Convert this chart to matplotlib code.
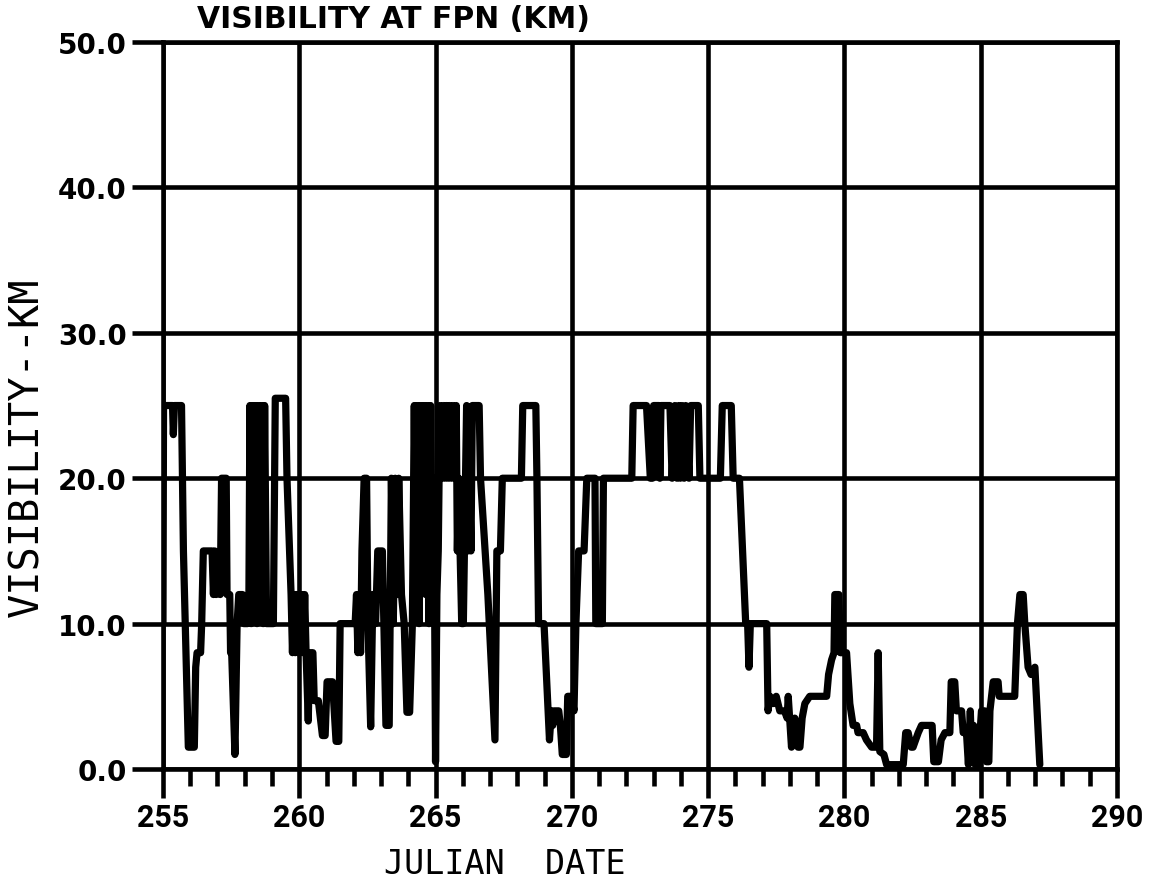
import numpy as np
import matplotlib.pyplot as plt
from matplotlib.ticker import MultipleLocator

# visibility trace (julian day, km)
days = [255.00, 255.02, 255.35, 255.38, 255.42, 255.68, 255.75, 255.93, 256.15, 256.20,
        256.25, 256.38, 256.42, 256.48, 256.80, 256.85, 256.90, 256.95, 257.05, 257.10,
        257.15, 257.32, 257.35, 257.45, 257.48, 257.52, 257.64, 257.72, 257.78, 257.92,
        257.96, 258.10, 258.15, 258.19, 258.24, 258.29, 258.34, 258.39, 258.45, 258.50,
        258.56, 258.62, 258.68, 258.73, 258.80, 259.05, 259.12, 259.50, 259.55, 259.70,
        259.75, 259.80, 259.85, 259.90, 259.95, 260.00, 260.05, 260.10, 260.15, 260.20,
        260.25, 260.33, 260.38, 260.50, 260.55, 260.70, 260.85, 260.95, 261.02, 261.22,
        261.35, 261.45, 261.50, 262.05, 262.10, 262.15, 262.20, 262.25, 262.30, 262.38,
        262.47, 262.52, 262.62, 262.70, 262.80, 262.88, 263.05, 263.18, 263.30, 263.38,
        263.45, 263.52, 263.60, 263.65, 263.75, 263.85, 263.95, 264.05, 264.15, 264.22,
        264.28, 264.34, 264.40, 264.46, 264.52, 264.58, 264.64, 264.70, 264.76, 264.82,
        264.88, 264.94, 265.00, 265.05, 265.10, 265.16, 265.22, 265.28, 265.34, 265.40,
        265.46, 265.52, 265.58, 265.64, 265.70, 265.76, 265.80, 265.85, 265.90, 265.96,
        266.02, 266.06, 266.10, 266.14, 266.20, 266.25, 266.30, 266.35, 266.60, 266.65,
        266.92, 267.18, 267.25, 267.38, 267.45, 268.15, 268.20, 268.68, 268.72, 268.78,
        268.98, 269.18, 269.25, 269.30, 269.35, 269.52, 269.58, 269.65, 269.80, 269.85,
        270.00, 270.08, 270.15, 270.25, 270.45, 270.55, 270.85, 270.88, 271.12, 271.16,
        272.20, 272.25, 272.74, 272.88, 272.96, 273.00, 273.20, 273.23, 273.27, 273.60,
        273.68, 273.78, 273.86, 273.92, 273.98, 274.04, 274.12, 274.18, 274.30, 274.36,
        274.64, 274.70, 275.45, 275.52, 275.85, 275.92, 276.15, 276.38, 276.45, 276.50,
        276.55, 277.15, 277.20, 277.27, 277.40, 277.50, 277.63, 277.80, 277.90, 277.94,
        278.06, 278.18, 278.30, 278.37, 278.45, 278.55, 278.73, 279.35, 279.42, 279.53,
        279.62, 279.65, 279.80, 279.85, 280.08, 280.20, 280.32, 280.45, 280.50, 280.69,
        280.81, 281.00, 281.18, 281.24, 281.30, 281.45, 281.55, 282.16, 282.25, 282.34,
        282.45, 282.52, 282.71, 282.83, 283.22, 283.28, 283.45, 283.55, 283.69, 283.87,
        283.92, 284.05, 284.11, 284.30, 284.36, 284.48, 284.55, 284.62, 284.68, 284.74,
        284.80, 284.90, 285.03, 285.15, 285.21, 285.30, 285.34, 285.46, 285.64, 285.68,
        286.25, 286.35, 286.44, 286.56, 286.62, 286.74, 286.85, 286.99, 287.17]
vis = [10, 25, 25, 23, 25, 25, 15, 1.5, 1.5, 7,
       8, 8, 10, 15, 15, 12, 15, 12, 14, 12,
       20, 20, 12, 12, 8, 8, 1, 10, 12, 12,
       10, 10, 11, 25, 10, 25, 12, 25, 10, 25,
       14, 25, 10, 25, 10, 10, 25.5, 25.5, 20, 12,
       8, 12, 8, 12, 8, 12, 8, 12, 8, 12,
       8, 3.3, 8, 8, 4.7, 4.7, 2.3, 2.3, 6, 6,
       1.9, 1.9, 10, 10, 12, 8, 12, 8, 15, 20,
       20, 10, 2.9, 12, 10, 15, 15, 3, 3, 20,
       10, 20, 12, 20, 12, 10, 3.9, 3.9, 10, 25,
       12, 25, 10, 25, 15, 25, 12, 25, 10, 25,
       12, 20, 0.5, 12, 15, 25, 20, 25, 20, 25,
       20, 25, 20, 25, 20, 25, 15, 20, 15, 10,
       10, 15, 20, 25, 15, 20, 15, 25, 25, 20,
       12, 2, 15, 15, 20, 20, 25, 25, 20, 10,
       10, 2, 4, 3, 4, 4, 3, 1, 1, 5,
       5, 4, 10, 15, 15, 20, 20, 10, 10, 20,
       20, 25, 25, 20, 20, 25, 25, 20, 25, 25,
       20, 25, 20, 25, 20, 25, 20, 25, 20, 25,
       25, 20, 20, 25, 25, 20, 20, 10, 10, 7,
       10, 10, 4, 5, 4.5, 5, 4, 4, 3.5, 5,
       1.5, 3.5, 1.5, 1.5, 3.5, 4.5, 5, 5, 6.5, 7.5,
       8, 12, 12, 8, 8, 4.5, 3, 3, 2.5, 2.5,
       2, 1.5, 1.5, 8, 1.2, 1, 0.3, 0.3, 2.5, 2.5,
       1.5, 1.5, 2.5, 3, 3, 0.5, 0.5, 2, 2.5, 2.5,
       6, 6, 4, 4, 2.5, 2.5, 0.3, 4, 0.5, 3,
       0.3, 0.3, 4, 4, 0.5, 0.5, 4, 6, 6, 5,
       5, 10, 12, 12, 10, 7, 6.5, 7, 0.3]

yticks = [0, 10, 20, 30, 40, 50]
xticks = [255, 260, 265, 270, 275, 280, 285, 290]

fig = plt.figure(figsize=(11.51, 8.79), dpi=100)
ax = fig.add_axes([0.1416, 0.124, 0.8288, 0.827])

ax.plot(days, vis, color='black', lw=5.2, solid_joinstyle='round', solid_capstyle='round', zorder=3)

ax.set_xlim(255, 290)
ax.set_ylim(0, 50)
ax.set_xticks(xticks)
ax.set_yticks(yticks)
ax.xaxis.set_minor_locator(MultipleLocator(1))
ax.set_yticklabels(['%.1f' % v for v in yticks], fontsize=20, fontweight='bold')
ax.set_xticklabels([str(v) for v in xticks], fontsize=22, fontweight='bold', family='Roboto')

ax.grid(True, which='major', color='black', lw=3.3)
for s in ax.spines.values():
    s.set_linewidth(3.3)
ax.tick_params(axis='y', which='major', direction='out', length=22, width=3.3, pad=4)
ax.tick_params(axis='x', which='major', direction='out', length=21, width=3.3, pad=3)
ax.tick_params(axis='x', which='minor', direction='out', length=12, width=3.3)

fig.text(197 / 1151, 1 - 20 / 879, 'VISIBILITY AT FPN (KM)', fontsize=21.5, fontweight='bold',
         ha='left', va='center')
fig.text(27 / 1151, 1 - 447 / 879, 'VISIBILITY--KM', family='DejaVu Sans Mono', fontsize=29,
         rotation=90, ha='center', va='center')
fig.text(505 / 1151, 1 - 874 / 879, 'JULIAN  DATE', family='DejaVu Sans Mono', fontsize=24,
         ha='center', va='baseline')

fig.savefig('out.png', dpi=100)
